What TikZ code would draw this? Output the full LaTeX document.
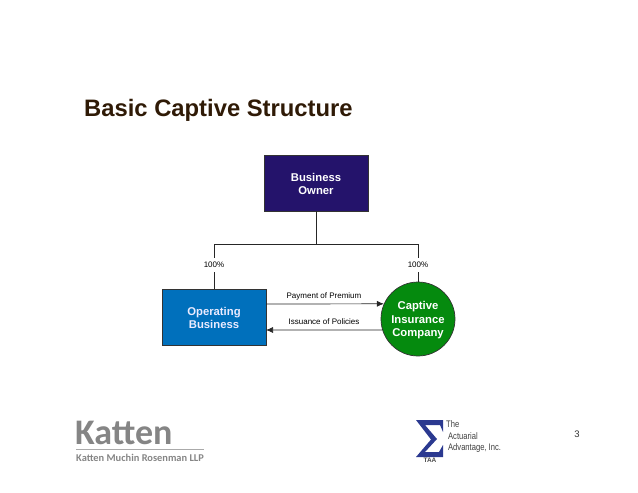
\documentclass[tikz,border=0pt]{standalone}
\usepackage{fontspec}
\usetikzlibrary{arrows.meta}
\setmainfont{Liberation Sans}
\newfontfamily\kattenfont{Carlito}
\definecolor{titlebrown}{HTML}{2F1A06}
\definecolor{ownerblue}{HTML}{24136B}
\definecolor{opblue}{HTML}{0070BC}
\definecolor{capgreen}{HTML}{058A0E}
\definecolor{kattengray}{HTML}{858585}
\definecolor{sigmablue}{HTML}{2B3990}
\tikzset{
  box/.style={draw=black!80,line width=0.7pt,minimum width=104pt,minimum height=56pt,align=center,font=\fontsize{11.3}{13}\selectfont\bfseries},
  pct/.style={fill=white,inner xsep=1.5pt,inner ysep=4pt,font=\fontsize{8}{9}\selectfont},
  flowlbl/.style={inner sep=0pt,font=\fontsize{8}{9}\selectfont},
  conn/.style={draw=black!85,line width=0.7pt},
  flow/.style={conn,-{Latex[length=7pt,width=6pt]}},
  logotxt/.style={inner sep=0pt,anchor=west,xscale=0.8,text=black!75,font=\fontsize{9.5}{10}\selectfont}
}
\begin{document}
\begin{tikzpicture}[x=1pt,y=-1pt]
  \useasboundingbox (0,0) rectangle (638,493);
  \node[inner sep=0pt,anchor=west,text=titlebrown,font=\fontsize{23.8}{26}\selectfont\bfseries] (title) at (84,110) {Basic Captive Structure};
  \node[box,fill=ownerblue,text=white] (owner) at (316,183) {\rule{0pt}{11pt}Business\\Owner};
  \node[box,fill=opblue,text=blue!8] (opbiz) at (214,317) {\rule{0pt}{11pt}Operating\\Business};
  \node[circle,draw=black!80,line width=0.7pt,fill=capgreen,text=white,minimum size=74pt,inner sep=0pt,align=center,font=\fontsize{11.3}{13.5}\selectfont\bfseries] (captive) at (418,319) {\rule{0pt}{11pt}Captive\\Insurance\\Company};
  \coordinate (bus) at (316,244.5);
  \draw[conn] (owner.south) -- (bus);
  \draw[conn] (opbiz.north) |- (bus);
  \draw[conn] (captive.north) |- (bus);
  \node[pct] (pctop) at (214,265) {100\%};
  \node[pct] (pctcap) at (418,265) {100\%};
  \coordinate (paystart) at (266,304);
  \coordinate (issuestart) at (266,330);
  \draw[flow] (paystart) -- (captive.156);
  \draw[flow] (captive.197) -- (issuestart);
  \node[flowlbl] (paylbl) at (324,296.5) {Payment of Premium};
  \node[flowlbl] (issuelbl) at (324,322) {Issuance of Policies};
  % logos
  \node[inner sep=0pt,anchor=west,text=kattengray,font=\kattenfont\fontsize{36}{38}\selectfont\bfseries] (katten) at (75,433) {Katten};
  \draw[kattengray!70,line width=0.7pt] (76,449) -- (204,449);
  \node[inner sep=0pt,anchor=west,text=kattengray,font=\kattenfont\fontsize{10.4}{12}\selectfont\bfseries] (kmr) at (76,458) {Katten Muchin Rosenman LLP};
  \fill[sigmablue] (416,420) -- (443,420) -- (443,432) -- (440,425) -- (425,425) -- (437,439) -- (425,452) -- (439,452) -- (443,445) -- (443,457) -- (416,457) -- (431,439.5) -- cycle;
  \node[inner sep=0pt,text=black!70,font=\fontsize{6.5}{7}\selectfont\bfseries] (taa) at (430,460) {TAA};
  \node[logotxt] (the) at (446,424) {The};
  \node[logotxt] (act) at (448,436) {Actuarial};
  \node[logotxt] (adv) at (448,448) {Advantage, Inc.};
  \node[inner sep=0pt,font=\fontsize{9.5}{10}\selectfont,text=black!80] (pageno) at (577,434.5) {3};
\end{tikzpicture}
\end{document}
